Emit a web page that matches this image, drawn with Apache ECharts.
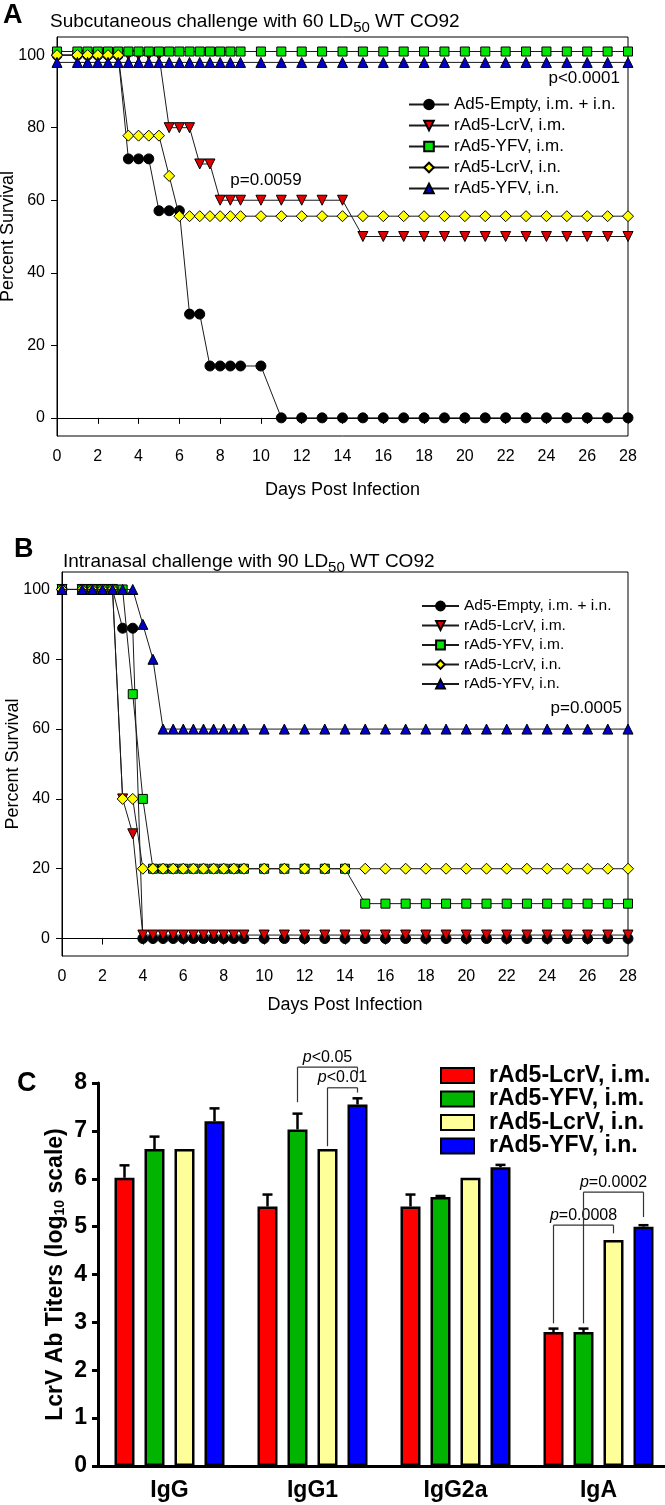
<!DOCTYPE html>
<html>
<head>
<meta charset="utf-8">
<script src="https://cdn.jsdelivr.net/npm/echarts@6/dist/echarts.min.js"></script>
<style>
  html, body { margin: 0; padding: 0; background: #fff; }
  #page { position: relative; width: 665px; height: 1505px; }
  .panel { position: absolute; left: 0; width: 665px; }
</style>
</head>
<body>
<div id="page">
  <div id="chartA" class="panel" style="top:0;height:520px"></div>
  <div id="chartB" class="panel" style="top:520px;height:510px"></div>
  <div id="chartC" class="panel" style="top:1030px;height:475px"></div>
</div>
<script>
// ---- data ----
const days = [0, 1, 1.5, 2, 2.5, 3, 3.5, 4, 4.5, 5, 5.5, 6, 6.5, 7, 7.5, 8, 8.5, 9,
  10, 11, 12, 13, 14, 15, 16, 17, 18, 19, 20, 21, 22, 23, 24, 25, 26, 27, 28];
const groups = ["Ad5-Empty, i.m. + i.n.", "rAd5-LcrV, i.m.", "rAd5-YFV, i.m.", "rAd5-LcrV, i.n.", "rAd5-YFV, i.n."];
const dayTicks = [0, 2, 4, 6, 8, 10, 12, 14, 16, 18, 20, 22, 24, 26, 28];
const survivalTicks = [0, 20, 40, 60, 80, 100];

// A: subcutaneous challenge
const scEmpty = [100, 100, 100, 100, 100, 100, 71.4, 71.4, 71.4, 57.1, 57.1, 57.1, 28.6, 28.6, 14.3, 14.3, 14.3, 14.3,
  14.3, 0, 0, 0, 0, 0, 0, 0, 0, 0, 0, 0, 0, 0, 0, 0, 0, 0, 0];
const scLcrvIm = [100, 100, 100, 100, 100, 100, 100, 100, 100, 100, 80, 80, 80, 70, 70, 60, 60, 60,
  60, 60, 60, 60, 60, 50, 50, 50, 50, 50, 50, 50, 50, 50, 50, 50, 50, 50, 50];
const scYfvIm = [101, 101, 101, 101, 101, 101, 101, 101, 101, 101, 101, 101, 101, 101, 101, 101, 101, 101,
  101, 101, 101, 101, 101, 101, 101, 101, 101, 101, 101, 101, 101, 101, 101, 101, 101, 101, 101];
const scLcrvIn = [100, 100, 100, 100, 100, 100, 77.8, 77.8, 77.8, 77.8, 66.7, 55.6, 55.6, 55.6, 55.6, 55.6, 55.6, 55.6,
  55.6, 55.6, 55.6, 55.6, 55.6, 55.6, 55.6, 55.6, 55.6, 55.6, 55.6, 55.6, 55.6, 55.6, 55.6, 55.6, 55.6, 55.6, 55.6];
const scYfvIn = [98, 98, 98, 98, 98, 98, 98, 98, 98, 98, 98, 98, 98, 98, 98, 98, 98, 98,
  98, 98, 98, 98, 98, 98, 98, 98, 98, 98, 98, 98, 98, 98, 98, 98, 98, 98, 98];

// B: intranasal challenge
const inEmpty = [100, 100, 100, 100, 100, 88.9, 88.9, 0, 0, 0, 0, 0, 0, 0, 0, 0, 0, 0,
  0, 0, 0, 0, 0, 0, 0, 0, 0, 0, 0, 0, 0, 0, 0, 0, 0, 0, 0];
const inLcrvIm = [100, 100, 100, 100, 100, 40, 30, 1, 1, 1, 1, 1, 1, 1, 1, 1, 1, 1,
  1, 1, 1, 1, 1, 1, 1, 1, 1, 1, 1, 1, 1, 1, 1, 1, 1, 1, 1];
const inYfvIm = [100, 100, 100, 100, 100, 100, 70, 40, 20, 20, 20, 20, 20, 20, 20, 20, 20, 20,
  20, 20, 20, 20, 20, 10, 10, 10, 10, 10, 10, 10, 10, 10, 10, 10, 10, 10, 10];
const inLcrvIn = [100, 100, 100, 100, 100, 40, 40, 20, 20, 20, 20, 20, 20, 20, 20, 20, 20, 20,
  20, 20, 20, 20, 20, 20, 20, 20, 20, 20, 20, 20, 20, 20, 20, 20, 20, 20, 20];
const inYfvIn = [100, 100, 100, 100, 100, 100, 100, 90, 80, 60, 60, 60, 60, 60, 60, 60, 60, 60,
  60, 60, 60, 60, 60, 60, 60, 60, 60, 60, 60, 60, 60, 60, 60, 60, 60, 60, 60];

// C: LcrV antibody titers (log10)
const isotypes = ["IgG", "IgG1", "IgG2a", "IgA"];
const vaccines = ["rAd5-LcrV, i.m.", "rAd5-YFV, i.m.", "rAd5-LcrV, i.n.", "rAd5-YFV, i.n."];
const titerLcrvIm = [6.02, 5.42, 5.42, 2.8];
const titerYfvIm = [6.62, 7.03, 5.62, 2.8];
const titerLcrvIn = [6.62, 6.62, 6.02, 4.72];
const titerYfvIn = [7.2, 7.55, 6.24, 5.0];
const errLcrvIm = [6.28, 5.67, 5.67, 2.87];
const errYfvIm = [6.88, 7.36, 5.64, 2.87];
const errLcrvIn = [null, null, null, null];
const errYfvIn = [7.47, 7.68, 6.29, 5.03];
// significance brackets: category, two bars, bracket height, leg ends, label
const brackets = [
  { cat: 1, from: 1, to: 3, top: 8.33, fromEnd: 7.6, toEnd: 8.2, label: "<0.05" },
  { cat: 1, from: 2, to: 3, top: 7.9, fromEnd: 6.68, toEnd: 7.8, label: "<0.01" },
  { cat: 3, from: 0, to: 2, top: 5.03, fromEnd: 2.98, toEnd: 4.86, label: "=0.0008" },
  { cat: 3, from: 1, to: 3, top: 5.72, fromEnd: 2.98, toEnd: 5.2, label: "=0.0002" },
];

// ---- styles ----
const FONT = '"Liberation Sans", Arial, Helvetica, sans-serif';
const markerShapes = ["circle", "path://M0,0L10,0L5,9Z", "rect", "diamond", "triangle"];
const markerSizes = [10, 10, 9, 11, 10];
const markerColors = ["#000000", "#e00000", "#00e600", "#ffff00", "#0000c8"];
const barColors = ["#ff0000", "#00b400", "#ffff99", "#0000ff"];

function survivalChart(el, cfg) {
  const chart = echarts.init(el);
  const series = cfg.values.map((vals, k) => ({
    name: groups[k],
    type: "line",
    data: days.map((d, i) => [d, vals[i]]),
    symbol: markerShapes[k],
    symbolSize: markerSizes[k],
    clip: false,
    z: 2 + k,
    lineStyle: { color: "#1a1a1a", width: 1 },
    itemStyle: { color: markerColors[k], borderColor: "#000", borderWidth: 1 },
  }));

  chart.setOption({
    animation: false,
    title: {
      text: cfg.title,
      left: cfg.titleLeft,
      top: cfg.titleTop,
      padding: 0,
      textStyle: {
        fontFamily: FONT, fontSize: 19, fontWeight: "normal", color: "#000",
        rich: { sub: { fontFamily: FONT, fontSize: 15, color: "#000", padding: [12, 0, 0, 0] } },
      },
    },
    grid: Object.assign({ show: true, borderColor: "#000", borderWidth: 1, outerBoundsMode: "none" }, cfg.grid),
    legend: {
      orient: "vertical",
      left: cfg.legend.left,
      top: cfg.legend.top,
      padding: 0,
      itemWidth: cfg.legend.itemWidth,
      itemHeight: cfg.legend.itemHeight,
      itemGap: cfg.legend.gap,
      selectedMode: false,
      textStyle: { fontFamily: FONT, fontSize: cfg.legend.fontSize, lineHeight: cfg.legend.fontSize, color: "#000" },
      data: groups,
    },
    xAxis: {
      type: "value", min: 0, max: 28, interval: 2,
      axisLine: { show: true, lineStyle: { color: "#000", width: 1 } },
      axisTick: { show: true, length: 6, lineStyle: { color: "#000" } },
      axisLabel: { fontFamily: FONT, fontSize: 16, color: "#000", margin: 13, customValues: dayTicks },
      splitLine: { show: false },
      name: "Days Post Infection",
      nameLocation: "middle",
      nameGap: cfg.xNameGap,
      nameTextStyle: { fontFamily: FONT, fontSize: 18, color: "#000" },
    },
    yAxis: {
      type: "value", min: -5, max: 105,
      axisLine: { show: true, lineStyle: { color: "#000", width: 1 } },
      axisTick: { show: true, length: 6, lineStyle: { color: "#000" }, customValues: survivalTicks },
      axisLabel: { fontFamily: FONT, fontSize: 16, color: "#000", margin: 12, customValues: survivalTicks },
      splitLine: { show: false },
      name: "Percent Survival",
      nameLocation: "middle",
      nameGap: cfg.yNameGap,
      nameMoveOverlap: false,
      nameTextStyle: { fontFamily: FONT, fontSize: 18, color: "#000" },
    },
    series: series,
  });

  const notes = cfg.notes.map((n) => {
    const p = chart.convertToPixel({ gridIndex: 0 }, [n.day, n.value]);
    return {
      type: "text", x: p[0], y: p[1], z: 100,
      style: { text: n.text, fontFamily: FONT, fontSize: 17, fill: "#000", align: n.align, verticalAlign: "middle" },
    };
  });
  notes.push({
    type: "text", left: cfg.letterLeft, top: cfg.letterTop, z: 100,
    style: { text: cfg.letter, fontFamily: FONT, fontSize: 27, fontWeight: "bold", fill: "#000" },
  });
  chart.setOption({ graphic: notes });
  return chart;
}

survivalChart(document.getElementById("chartA"), {
  title: "Subcutaneous challenge with 60 LD{sub|50} WT CO92",
  titleLeft: 50, titleTop: 8,
  letter: "A", letterLeft: 3, letterTop: 2,
  grid: { left: 57, right: 37, top: 37, bottom: 84 },
  legend: { left: 408, top: 96, itemWidth: 40, itemHeight: 12, gap: 4, fontSize: 17 },
  xNameGap: 45,
  yNameGap: 40,
  values: [scEmpty, scLcrvIm, scYfvIm, scLcrvIn, scYfvIn],
  notes: [
    { day: 27.6, value: 93.5, text: "p<0.0001", align: "right" },
    { day: 8.5, value: 65.5, text: "p=0.0059", align: "left" },
  ],
});

survivalChart(document.getElementById("chartB"), {
  title: "Intranasal challenge with 90 LD{sub|50} WT CO92",
  titleLeft: 63, titleTop: 28,
  letter: "B", letterLeft: 14, letterTop: 16,
  grid: { left: 62, right: 37, top: 52, bottom: 74 },
  legend: { left: 421, top: 78, itemWidth: 37, itemHeight: 11, gap: 3.5, fontSize: 15.5 },
  xNameGap: 40,
  yNameGap: 40,
  values: [inEmpty, inLcrvIm, inYfvIm, inLcrvIn, inYfvIn],
  notes: [
    { day: 27.7, value: 66, text: "p=0.0005", align: "right" },
  ],
});

// ---- panel C ----
const chartC = echarts.init(document.getElementById("chartC"));
const titers = [titerLcrvIm, titerYfvIm, titerLcrvIn, titerYfvIn];
const errs = [errLcrvIm, errYfvIm, errLcrvIn, errYfvIn];
const boldText = { fontFamily: FONT, fontSize: 23, fontWeight: "bold", color: "#000" };

chartC.setOption({
  animation: false,
  grid: { left: 98, top: 53, width: 572, height: 383, outerBoundsMode: "none" },
  legend: {
    orient: "vertical", left: 440, top: 34, padding: 0,
    itemWidth: 33, itemHeight: 15, itemGap: 0.5, icon: "rect", selectedMode: false,
    textStyle: Object.assign({ lineHeight: 23, padding: [0, 0, 0, 10] }, boldText),
    data: vaccines,
  },
  xAxis: {
    type: "category", data: isotypes,
    axisLine: { lineStyle: { color: "#000", width: 3 } },
    axisTick: { alignWithLabel: true, length: 7, lineStyle: { color: "#000", width: 3 } },
    axisLabel: Object.assign({ margin: 13 }, boldText),
  },
  yAxis: {
    type: "value", min: 0, max: 8, interval: 1,
    axisLine: { show: true, lineStyle: { color: "#000", width: 3 } },
    axisTick: { show: true, length: 6, lineStyle: { color: "#000", width: 3 } },
    axisLabel: Object.assign({ margin: 11 }, boldText),
    splitLine: { show: false },
    name: "LcrV Ab Titers (log{sub|10} scale)",
    nameLocation: "middle",
    nameGap: 31,
    nameMoveOverlap: false,
    nameTextStyle: Object.assign({
      rich: { sub: { fontFamily: FONT, fontSize: 14, fontWeight: "bold", color: "#000", padding: [9, 0, 0, 0] } },
    }, boldText),
  },
  series: vaccines.map((name, s) => ({
    name: name,
    type: "bar",
    data: titers[s],
    barWidth: 20,
    barGap: "50%",
    itemStyle: { color: barColors[s], borderColor: "#000", borderWidth: 2.5 },
  })),
});

// error bars and significance brackets, placed from the bar layout
(function () {
  const model = chartC.getModel();
  const barX = (s, i) => {
    const l = model.getSeriesByIndex(s).getData().getItemLayout(i);
    return l.x + l.width / 2;
  };
  const yPx = (v) => chartC.convertToPixel({ yAxisIndex: 0 }, v);
  const g = [];
  const seg = (x1, y1, x2, y2, w, c) => g.push({
    type: "line", z: 100, shape: { x1: x1, y1: y1, x2: x2, y2: y2 },
    style: { stroke: c, lineWidth: w },
  });

  errs.forEach((arr, s) => {
    arr.forEach((hi, i) => {
      if (hi == null) return;
      const x = barX(s, i);
      seg(x, yPx(titers[s][i]), x, yPx(hi), 2.5, "#000");
      seg(x - 5, yPx(hi), x + 5, yPx(hi), 2.5, "#000");
    });
  });

  brackets.forEach((b) => {
    const x1 = barX(b.from, b.cat);
    const x2 = barX(b.to, b.cat);
    const yt = yPx(b.top);
    seg(x1, yPx(b.fromEnd), x1, yt, 1.2, "#333");
    seg(x1, yt, x2, yt, 1.2, "#333");
    seg(x2, yt, x2, yPx(b.toEnd), 1.2, "#333");
    g.push({
      type: "text", z: 100, x: (x1 + x2) / 2, y: yt - 2,
      style: {
        text: "{i|p}" + b.label, fontFamily: FONT, fontSize: 16, fill: "#000",
        align: "center", verticalAlign: "bottom",
        rich: { i: { fontFamily: FONT, fontSize: 16, fontStyle: "italic", fill: "#000" } },
      },
    });
  });

  g.push({
    type: "text", left: 17, top: 40, z: 100,
    style: { text: "C", fontFamily: FONT, fontSize: 27, fontWeight: "bold", fill: "#000" },
  });
  chartC.setOption({ graphic: g });
})();
</script>
</body>
</html>
